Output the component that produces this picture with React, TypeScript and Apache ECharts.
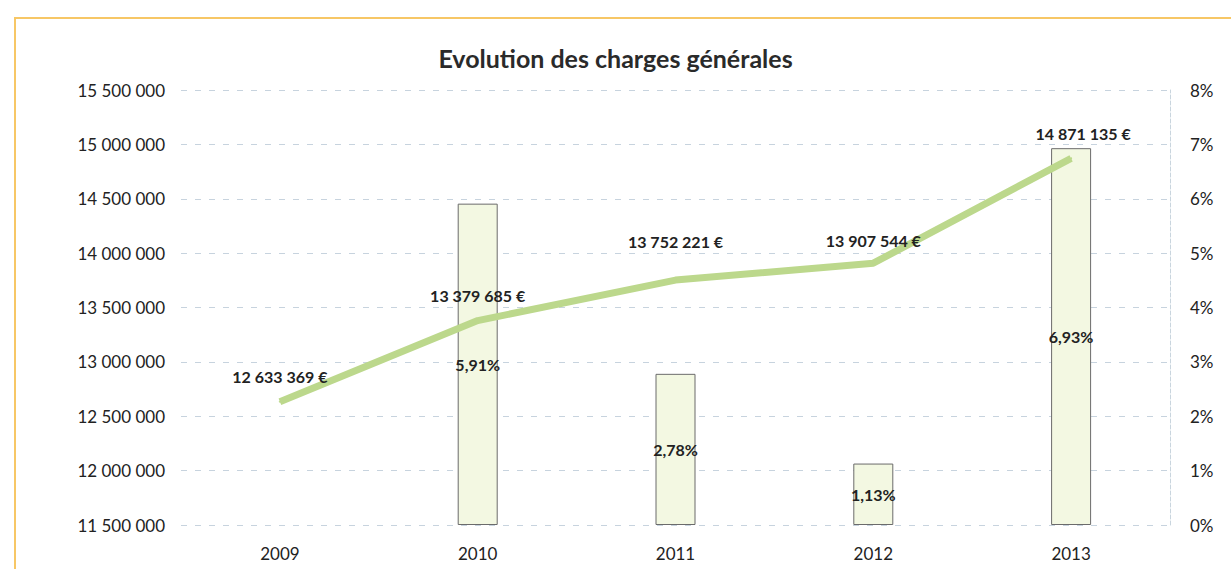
import React, { useEffect, useRef } from "react";
import * as echarts from "echarts";

const years = ["2009", "2010", "2011", "2012", "2013"];
const charges = [12633369, 13379685, 13752221, 13907544, 14871135];
const growth = [null, 5.91, 2.78, 1.13, 6.93];
const lineLabelOffsets = [[0, 0], [0, 0], [0, -14], [0, 2], [12, 0]];

const fmtSpace = (v: number) =>
  String(Math.round(v)).replace(/\B(?=(\d{3})+(?!\d))/g, " ");

export default function App() {
  const ref = useRef<HTMLDivElement>(null);
  useEffect(() => {
    const chart = echarts.init(ref.current!, null, { renderer: "svg" });
    const font = "Lato, 'Open Sans', sans-serif";
    chart.setOption({
      animation: false,
      backgroundColor: "#ffffff",
      textStyle: { fontFamily: font },
      title: {
        text: "Evolution des charges générales",
        left: "center",
        top: 40,
        textStyle: { fontSize: 25, fontWeight: "bold", color: "#2a2a2a", fontFamily: font },
      },
      graphic: [
        {
          type: "rect",
          shape: { x: 15, y: 18, width: 1230, height: 560 },
          style: { fill: "none", stroke: "#f7c766", lineWidth: 2 },
          silent: true,
        },
      ],
      grid: { left: 181, right: 61, top: 90, bottom: 44 },
      xAxis: {
        type: "category",
        data: years,
        axisLine: { show: false },
        axisTick: { show: false },
        axisLabel: { fontSize: 17, color: "#222", margin: 20, fontFamily: font },
      },
      yAxis: [
        {
          type: "value",
          min: 11500000,
          max: 15500000,
          interval: 500000,
          axisLine: { show: false },
          axisTick: { show: false },
          axisLabel: { fontSize: 17, color: "#222", margin: 16, formatter: (v: number) => fmtSpace(v), fontFamily: font },
          splitLine: { lineStyle: { color: "#c7d3de", type: [6, 8], width: 1 } },
        },
        {
          type: "value",
          min: 0,
          max: 8,
          interval: 1,
          position: "right",
          axisLine: { show: true, lineStyle: { color: "#c9d5de", type: "dashed" } },
          axisTick: { show: false },
          axisLabel: { fontSize: 17, color: "#222", margin: 20, formatter: "{value}%", fontFamily: font },
          splitLine: { show: false },
        },
      ],
      series: [
        {
          name: "Variation",
          type: "bar",
          yAxisIndex: 1,
          data: growth,
          barWidth: 40,
          itemStyle: { color: "#f3f8e2", borderColor: "#6b6b6b", borderWidth: 1 },
          label: {
            show: true,
            position: "inside",
            formatter: (p: any) => p.value.toFixed(2).replace(".", ",") + "%",
            fontSize: 16,
            fontWeight: "bold",
            color: "#222",
            fontFamily: font,
          },
        },
        {
          name: "Charges",
          type: "line",
          yAxisIndex: 0,
          data: charges.map((v, i) => ({
            value: v,
            label: { offset: lineLabelOffsets[i] },
          })),
          symbol: "circle",
          symbolSize: 2,
          showSymbol: true,
          itemStyle: { color: "#bcd88c" },
          lineStyle: { color: "#bcd88c", width: 7 },
          label: {
            show: true,
            position: "top",
            distance: 16,
            formatter: (p: any) => fmtSpace(p.value) + " €",
            fontSize: 16,
            fontWeight: "bold",
            color: "#222",
            fontFamily: font,
          },
          z: 3,
        },
      ],
    });
    return () => chart.dispose();
  }, []);
  return (
    <div
      ref={ref}
      style={{ position: "fixed", left: 0, top: 0, width: 1231, height: 569 }}
    />
  );
}
